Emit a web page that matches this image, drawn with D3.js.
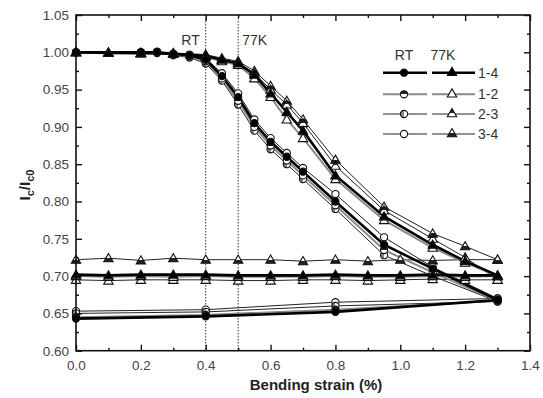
<!DOCTYPE html>
<html><head><meta charset="utf-8">
<script src="https://cdn.jsdelivr.net/npm/d3@7/dist/d3.min.js"></script>
<style>body{margin:0;background:#fff}svg{display:block}text{font-family:"Liberation Sans",Arial,sans-serif}</style>
</head><body><svg id="c" width="543" height="398"></svg>
<script>
// ---- data ----
const xTicks = [0.0,0.2,0.4,0.6,0.8,1.0,1.2,1.4];
const yTicks = [0.60,0.65,0.70,0.75,0.80,0.85,0.90,0.95,1.00,1.05];
const seriesNames = ["1-4","1-2","2-3","3-4"];

const rtFwdX = [0,0.2,0.25,0.3,0.35,0.4,0.45,0.5,0.55,0.6,0.65,0.7,0.8,0.95,1.1,1.3];
const rtFwd14 = [1.0,1.0,1.0,0.998,0.996,0.99,0.968,0.94,0.905,0.88,0.86,0.84,0.80,0.742,0.71,0.668];
const rtFwd12 = [1.0,1.0,1.0,0.997,0.995,0.988,0.965,0.935,0.90,0.875,0.855,0.835,0.795,0.735,0.705,0.667];
const rtFwd23 = [1.0,1.0,0.999,0.996,0.993,0.985,0.962,0.93,0.895,0.87,0.85,0.83,0.79,0.728,0.70,0.666];
const rtFwd34 = [1.0,1.0,1.001,0.998,0.997,0.992,0.972,0.945,0.91,0.885,0.865,0.845,0.81,0.752,0.712,0.670];

const rtRetX = [1.3,0.8,0.4,0];
const rtRet14 = [0.668,0.652,0.646,0.643];
const rtRet12 = [0.667,0.655,0.648,0.645];
const rtRet23 = [0.666,0.660,0.652,0.650];
const rtRet34 = [0.670,0.665,0.655,0.653];

const kFwdX = [0,0.1,0.2,0.3,0.4,0.45,0.5,0.55,0.6,0.65,0.7,0.8,0.95,1.1,1.2,1.3];
const kFwd14 = [1.0,0.999,0.999,0.998,0.995,0.99,0.985,0.97,0.945,0.92,0.895,0.835,0.78,0.742,0.72,0.701];
const kFwd12 = [1.0,0.999,0.998,0.998,0.994,0.988,0.983,0.965,0.94,0.91,0.885,0.83,0.775,0.738,0.718,0.700];
const kFwd23 = [1.0,0.999,0.999,0.998,0.996,0.99,0.986,0.972,0.95,0.93,0.905,0.848,0.788,0.75,0.725,0.695];
const kFwd34 = [1.0,1.0,0.999,0.999,0.997,0.992,0.988,0.975,0.955,0.935,0.91,0.856,0.793,0.757,0.74,0.722];

const kRetX = [1.3,1.2,1.1,1.0,0.9,0.8,0.7,0.6,0.5,0.4,0.3,0.2,0.1,0];
const kRet14 = [0.701,0.701,0.702,0.701,0.701,0.702,0.701,0.701,0.701,0.702,0.702,0.702,0.701,0.702];
const kRet12 = [0.700,0.699,0.700,0.699,0.699,0.700,0.699,0.699,0.699,0.700,0.699,0.700,0.699,0.700];
const kRet23 = [0.695,0.695,0.696,0.695,0.694,0.695,0.695,0.694,0.694,0.695,0.695,0.695,0.694,0.695];
const kRet34 = [0.722,0.722,0.721,0.722,0.720,0.722,0.720,0.722,0.722,0.722,0.724,0.721,0.724,0.722];

// ---- setup ----
const svg = d3.select("#c");
const L=76,R=530,T=15,B=350.7;
const x = d3.scaleLinear().domain([0,1.4]).range([L,R]);
const y = d3.scaleLinear().domain([0.6,1.05]).range([B,T]);

const defs = svg.append("defs");
function grad(id,dir,col){
  const g=defs.append("linearGradient").attr("id",id);
  if(dir==="v"){g.attr("x1",0).attr("y1",0).attr("x2",0).attr("y2",1);} else {g.attr("x1",0).attr("y1",0).attr("x2",1).attr("y2",0);}
  g.append("stop").attr("offset","50%").attr("stop-color",col);
  g.append("stop").attr("offset","50%").attr("stop-color","#fff");
}
grad("topHalf","v","#222");
grad("topHalfG","v","#666");
grad("leftGray","h","#888");
defs.append("linearGradient").attr("id","botHalf").attr("x1",0).attr("y1",0).attr("x2",0).attr("y2",1)
  .call(g=>{g.append("stop").attr("offset","55%").attr("stop-color","#fff");g.append("stop").attr("offset","55%").attr("stop-color","#222");});

const styles = {
  "1-4":{line:"#000",w:2.6,cfill:"#000",tfill:"#000"},
  "1-2":{line:"#8a8a8a",w:2.0,cfill:"url(#topHalf)",tfill:"#fff"},
  "2-3":{line:"#222",w:1.0,cfill:"url(#leftGray)",tfill:"url(#topHalf)"},
  "3-4":{line:"#222",w:1.0,cfill:"#fff",tfill:"url(#botHalf)"}
};

const plot = svg.append("g");

// reference lines
[0.4,0.5].forEach(v=>{
  plot.append("line").attr("x1",x(v)).attr("x2",x(v)).attr("y1",T).attr("y2",B)
    .attr("stroke","#333").attr("stroke-width",1).attr("stroke-dasharray","1.5,1.5");
});
svg.append("text").attr("x",x(0.4)-6).attr("y",45).attr("text-anchor","end").attr("font-size",14).attr("fill","#333").text("RT");
svg.append("text").attr("x",x(0.5)+4).attr("y",45).attr("text-anchor","start").attr("font-size",14).attr("fill","#333").text("77K");

const line = d3.line().x(d=>x(d[0])).y(d=>y(d[1]));
const zip=(a,b)=>a.map((v,i)=>[v,b[i]]);

const rt = {"1-4":[rtFwd14,rtRet14],"1-2":[rtFwd12,rtRet12],"2-3":[rtFwd23,rtRet23],"3-4":[rtFwd34,rtRet34]};
const kk = {"1-4":[kFwd14,kRet14],"1-2":[kFwd12,kRet12],"2-3":[kFwd23,kRet23],"3-4":[kFwd34,kRet34]};

const tri = d3.symbol().type(d3.symbolTriangle).size(38);
function drawCircle(g,cx,cy,s){g.append("circle").attr("cx",cx).attr("cy",cy).attr("r",3.6).attr("fill",s.cfill).attr("stroke","#111").attr("stroke-width",1.1);}
function drawTri(g,cx,cy,s){g.append("path").attr("d",tri()).attr("transform",`translate(${cx},${cy+0.8})`).attr("fill",s.tfill).attr("stroke","#111").attr("stroke-width",1.1);}

const order=["3-4","2-3","1-2","1-4"];
// lines first
order.forEach(n=>{
  const s=styles[n];
  const kpts = zip(kFwdX,kk[n][0]).concat(zip(kRetX,kk[n][1]));
  plot.append("path").attr("d",line(kpts)).attr("fill","none").attr("stroke",s.line).attr("stroke-width",s.w);
  const rpts = zip(rtFwdX,rt[n][0]).concat(zip(rtRetX,rt[n][1]));
  plot.append("path").attr("d",line(rpts)).attr("fill","none").attr("stroke",s.line).attr("stroke-width",s.w);
});
order.forEach(n=>{
  const s=styles[n];
  zip(kFwdX,kk[n][0]).concat(zip(kRetX,kk[n][1])).forEach(p=>drawTri(plot,x(p[0]),y(p[1]),s));
  zip(rtFwdX,rt[n][0]).concat(zip(rtRetX,rt[n][1])).forEach(p=>drawCircle(plot,x(p[0]),y(p[1]),s));
});

// frame
svg.append("rect").attr("x",L).attr("y",T).attr("width",R-L).attr("height",B-T).attr("fill","none").attr("stroke","#111").attr("stroke-width",1.6);

// axes
const fmt2=d3.format(".2f"), fmt1=d3.format(".1f");
const xb = svg.append("g").attr("transform",`translate(0,${B})`).call(d3.axisBottom(x).tickValues(xTicks).tickFormat(fmt1).tickSizeInner(-6).tickSizeOuter(0).tickPadding(10));
const yl = svg.append("g").attr("transform",`translate(${L},0)`).call(d3.axisLeft(y).tickValues(yTicks).tickFormat(fmt2).tickSizeInner(-6).tickSizeOuter(0).tickPadding(7));
const xt = svg.append("g").attr("transform",`translate(0,${T})`).call(d3.axisTop(x).tickValues(xTicks).tickFormat("").tickSizeInner(-6).tickSizeOuter(0));
const yr = svg.append("g").attr("transform",`translate(${R},0)`).call(d3.axisRight(y).tickValues(yTicks).tickFormat("").tickSizeInner(-6).tickSizeOuter(0));
const xMinor = d3.range(0.1,1.4,0.2);
const yMinor = d3.range(0.625,1.05,0.05);
svg.append("g").attr("transform",`translate(0,${B})`).call(d3.axisBottom(x).tickValues(xMinor).tickFormat("").tickSizeInner(-3).tickSizeOuter(0));
svg.append("g").attr("transform",`translate(0,${T})`).call(d3.axisTop(x).tickValues(xMinor).tickFormat("").tickSizeInner(-3).tickSizeOuter(0));
svg.append("g").attr("transform",`translate(${L},0)`).call(d3.axisLeft(y).tickValues(yMinor).tickFormat("").tickSizeInner(-3).tickSizeOuter(0));
svg.append("g").attr("transform",`translate(${R},0)`).call(d3.axisRight(y).tickValues(yMinor).tickFormat("").tickSizeInner(-3).tickSizeOuter(0));
svg.selectAll(".domain").remove();
svg.selectAll(".tick line").attr("stroke","#111").attr("stroke-width",1.4);
svg.selectAll(".tick text").attr("font-size",13.5).attr("fill","#444").attr("font-family","Liberation Sans, Arial, sans-serif");

// axis titles
svg.append("text").attr("x",316).attr("y",390).attr("text-anchor","middle").attr("font-size",15).attr("font-weight","bold").attr("fill","#222").text("Bending strain (%)");
const yt = svg.append("text").attr("transform","translate(30,185) rotate(-90)").attr("text-anchor","middle").attr("font-size",15).attr("font-weight","bold").attr("fill","#222");
yt.append("tspan").text("I");
yt.append("tspan").attr("font-size",11).attr("dy",4).text("c");
yt.append("tspan").attr("dy",-4).text("/I");
yt.append("tspan").attr("font-size",11).attr("dy",4).text("c0");

// legend
const lg = svg.append("g");
lg.append("text").attr("x",404).attr("y",60).attr("text-anchor","middle").attr("font-size",14).attr("fill","#333").text("RT");
lg.append("text").attr("x",443).attr("y",60).attr("text-anchor","middle").attr("font-size",14).attr("fill","#333").text("77K");
const rowsY=[72.7,94.3,114,134];
seriesNames.forEach((n,i)=>{
  const s=styles[n], yy=rowsY[i];
  lg.append("line").attr("x1",383).attr("x2",427).attr("y1",yy).attr("y2",yy).attr("stroke",s.line).attr("stroke-width",s.w);
  lg.append("line").attr("x1",432).attr("x2",475).attr("y1",yy).attr("y2",yy).attr("stroke",s.line).attr("stroke-width",s.w);
  drawCircle(lg,404,yy,s);
  drawTri(lg,452,yy-0.8,s);
  lg.append("text").attr("x",478).attr("y",yy+5).attr("font-size",14).attr("fill","#333").text(n);
});
</script></body></html>
